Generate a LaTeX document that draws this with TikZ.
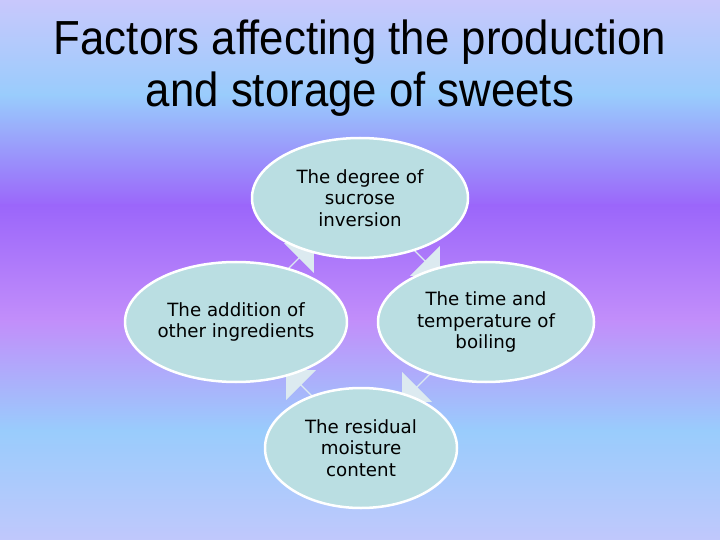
\documentclass[tikz,border=0pt]{standalone}
\usepackage{fontspec}
\setmainfont{DejaVu Sans}
\newfontfamily\titlefont{Liberation Sans}
\usepackage{tikz}
\usetikzlibrary{shapes,shapes.arrows,backgrounds}
\definecolor{bgtop}{RGB}{200,200,252}
\definecolor{bgblue}{RGB}{153,204,252}
\definecolor{bgpurple}{RGB}{155,102,250}
\definecolor{bglilac}{RGB}{194,142,250}
\definecolor{bgbottom}{RGB}{192,200,252}
\definecolor{lteal}{RGB}{186,222,226}
\definecolor{pale}{RGB}{220,234,240}
\pgfdeclarelayer{bglayer}
\pgfdeclarelayer{edgelayer}
\pgfdeclarelayer{nodelayer}
\pgfsetlayers{bglayer,edgelayer,nodelayer,main}
\tikzstyle{band}=[draw=none]
\tikzstyle{factor}=[ellipse,fill=lteal,draw=white,line width=2.5bp,minimum width=216bp,minimum height=120bp,inner sep=0pt,align=center,font=\fontsize{18.3}{21.5}\selectfont]
\tikzstyle{cyclearrow}=[single arrow,fill=pale,draw=none,minimum height=44bp,minimum width=42bp,single arrow head extend=6bp,inner sep=0pt]
\tikzstyle{heading}=[align=center,xscale=0.915,transform shape,font=\titlefont\fontsize{48}{52}\selectfont]

\begin{document}
\begin{tikzpicture}[x=1bp,y=-1bp]
	\begin{pgfonlayer}{bglayer}
		\shade [style=band, top color=bgtop, bottom color=bgblue] (0,0) rectangle (720,96);
		\shade [style=band, top color=bgblue, bottom color=bgpurple] (0,95) rectangle (720,206);
		\shade [style=band, top color=bgpurple, bottom color=bglilac] (0,205) rectangle (720,321);
		\shade [style=band, top color=bglilac, bottom color=bgblue] (0,320) rectangle (720,431);
		\shade [style=band, top color=bgblue, bottom color=bgbottom] (0,430) rectangle (720,540);
	\end{pgfonlayer}
	\useasboundingbox (0,0) rectangle (720,540);

	\node [style=heading] (title) at (360,68) {Factors affecting the production\\and storage of sweets};

	\begin{pgfonlayer}{nodelayer}
		\node [style=factor] (top) at (360,198) {The degree of\\sucrose\\inversion};
		\node [style=factor] (left) at (236,322) {The addition of\\other ingredients};
		\node [style=factor] (right) at (486,322) {The time and\\temperature of\\boiling};
		\node [style=factor, minimum width=192bp] (bottom) at (361,448) {The residual\\moisture\\content};
	\end{pgfonlayer}
	\begin{pgfonlayer}{edgelayer}
		\node [style=cyclearrow, rotate=45] (a1) at (298,259) {};
		\node [style=cyclearrow, rotate=-45] (a2) at (424,260) {};
		\node [style=cyclearrow, rotate=-135] (a3) at (418,386) {};
		\node [style=cyclearrow, rotate=135] (a4) at (302,386) {};
	\end{pgfonlayer}
\end{tikzpicture}
\end{document}
